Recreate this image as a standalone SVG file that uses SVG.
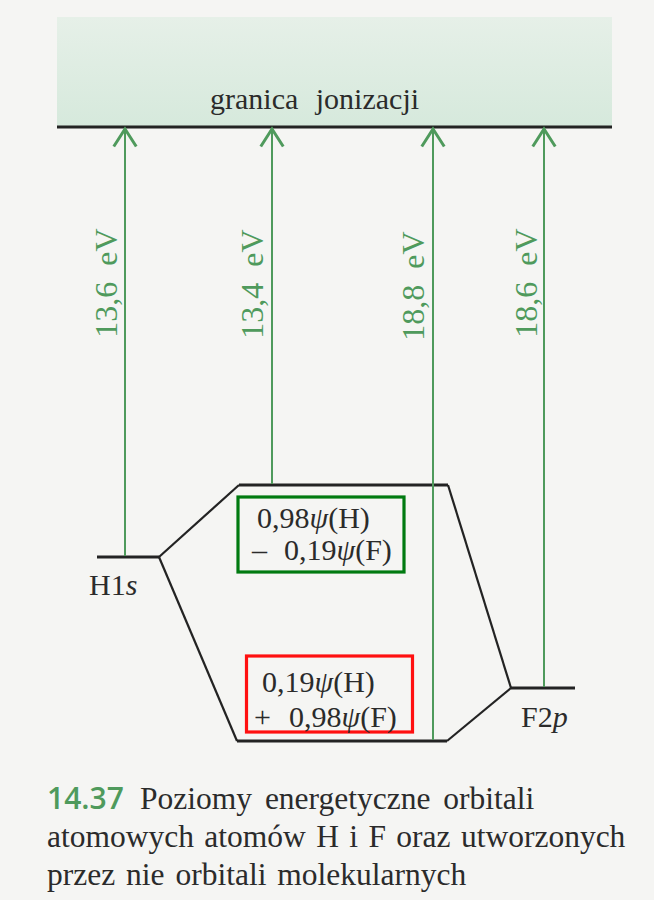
<svg xmlns="http://www.w3.org/2000/svg" width="654" height="900" viewBox="0 0 654 900">
  <defs>
    <linearGradient id="band" x1="0" y1="0" x2="0" y2="1">
      <stop offset="0" stop-color="#e6f0e8"/>
      <stop offset="1" stop-color="#d6e9dc"/>
    </linearGradient>
    <marker id="chev" markerUnits="userSpaceOnUse" orient="auto" markerWidth="30" markerHeight="30" refX="0" refY="0" viewBox="-16 -12 20 24" overflow="visible">
      <path d="M-14,-9 L0,0 L-14,9" fill="none" stroke="#4f9a5c" stroke-width="2.4"/>
    </marker>
  </defs>
  <style>
    .t { font-family: "Liberation Serif", "Times New Roman", serif; font-size: 30px; fill: #2b2b2b; }
    .v { font-family: "Liberation Serif", "Times New Roman", serif; font-size: 32px; fill: #4f9a5c; }
    .cap { font-family: "Liberation Serif", "Times New Roman", serif; font-size: 31.5px; fill: #2b2b2b; }
    .num { font-family: "Open Sans", "Liberation Sans", sans-serif; font-size: 30px; font-weight: 600; fill: #4f9a5c; }
    .lvl { stroke: #232323; stroke-width: 3; fill: none; }
    .diag { stroke: #232323; stroke-width: 2.2; fill: none; }
    .arr { stroke: #4f9a5c; stroke-width: 2; fill: none; marker-end: url(#chev); }
    .psi { font-style: italic; }
  </style>
  <rect width="654" height="900" fill="#f5f5f3"/>

  <g id="ionization-limit">
    <rect x="57" y="17" width="555" height="109" fill="url(#band)"/>
    <line x1="57" y1="127" x2="612" y2="127" stroke="#232323" stroke-width="3.2"/>
    <text class="t" x="210" y="109" word-spacing="10">granica jonizacji</text>
  </g>

  <g id="H1s">
    <line class="lvl" x1="97" y1="557" x2="159" y2="557"/>
    <text class="t" x="89" y="595">H1<tspan font-style="italic">s</tspan></text>
  </g>

  <g id="antibonding-MO">
    <line class="lvl" x1="239" y1="485" x2="448" y2="485"/>
    <rect x="238" y="497" width="166" height="75" fill="none" stroke="#007a10" stroke-width="3.2"/>
    <text class="t" x="257" y="528">0,98<tspan class="psi">ψ</tspan>(H)</text>
    <text class="t" x="252" y="560">–<tspan x="284">0,19</tspan><tspan class="psi">ψ</tspan>(F)</text>
  </g>

  <g id="bonding-MO">
    <line class="lvl" x1="237" y1="741" x2="447" y2="741"/>
    <rect x="246.5" y="656" width="166" height="76" fill="none" stroke="#ff1010" stroke-width="3.2"/>
    <text class="t" x="262" y="692">0,19<tspan class="psi">ψ</tspan>(H)</text>
    <text class="t" x="254" y="727">+<tspan x="289">0,98</tspan><tspan class="psi">ψ</tspan>(F)</text>
  </g>

  <g id="F2p">
    <line class="lvl" x1="511" y1="688" x2="575" y2="688"/>
    <text class="t" x="521" y="727">F2<tspan font-style="italic">p</tspan></text>
  </g>

  <g id="connectors">
    <line class="diag" x1="159" y1="557" x2="239" y2="485"/>
    <line class="diag" x1="159" y1="557" x2="237" y2="741"/>
    <line class="diag" x1="448" y1="485" x2="511" y2="688"/>
    <line class="diag" x1="447" y1="741" x2="511" y2="688"/>
    <line class="arr" x1="125" y1="556" x2="125" y2="129"/>
    <line class="arr" x1="272" y1="484" x2="272" y2="129"/>
    <line class="arr" x1="433" y1="740" x2="433" y2="129"/>
    <line class="arr" x1="544" y1="687" x2="544" y2="129"/>
  </g>

  <g id="energy-labels">
    <text class="v" transform="translate(117,283) rotate(-90)" text-anchor="middle" word-spacing="8">13,6 eV</text>
    <text class="v" transform="translate(263,284) rotate(-90)" text-anchor="middle" word-spacing="8">13,4 eV</text>
    <text class="v" transform="translate(424,286) rotate(-90)" text-anchor="middle" word-spacing="8">18,8 eV</text>
    <text class="v" transform="translate(537,283) rotate(-90)" text-anchor="middle" word-spacing="8">18,6 eV</text>
  </g>

  <g id="caption">
    <text class="num" x="47" y="809">14.37</text>
    <text class="cap" x="140" y="809" word-spacing="5">Poziomy energetyczne orbitali</text>
    <text class="cap" x="47" y="847" word-spacing="2.5">atomowych atomów H i F oraz utworzonych</text>
    <text class="cap" x="47" y="885" word-spacing="3">przez nie orbitali molekularnych</text>
  </g>
</svg>
